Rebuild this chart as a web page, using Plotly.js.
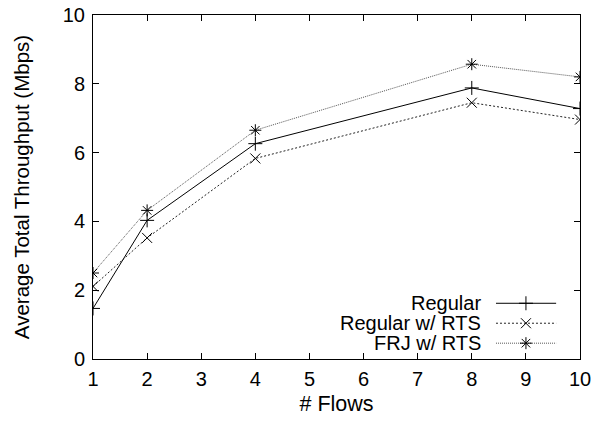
<!DOCTYPE html>
<html>
<head>
<meta charset="utf-8">
<script src="https://cdn.plot.ly/plotly-3.0.1.min.js"></script>
<style>html,body{margin:0;padding:0;background:#fff;}#chart{width:593px;height:424px;}</style>
</head>
<body>
<div id="chart"></div>
<script>
// Data
var flows = [1, 2, 4, 8, 10];
var regular = [1.47, 4.03, 6.26, 7.88, 7.28];
var regularRTS = [2.11, 3.52, 5.83, 7.45, 6.96];
var frjRTS = [2.50, 4.32, 6.65, 8.57, 8.20];
var seriesNames = ["Regular", "Regular w/ RTS", "FRJ w/ RTS"];
var xTicks = [1, 2, 3, 4, 5, 6, 7, 8, 9, 10];
var yTicks = [0, 2, 4, 6, 8, 10];

var FONT = "Liberation Sans, Arial, sans-serif";
var styles = [
  {color: "#000000", dash: "solid", symbol: "cross-thin-open"},
  {color: "#222222", dash: "2px,2px", symbol: "x-thin-open"},
  {color: "#555555", dash: "1px,1px", symbol: "asterisk-open"}
];
var seriesData = [regular, regularRTS, frjRTS];

var traces = [];
seriesData.forEach(function (ys, i) {
  traces.push({
    x: flows, y: ys, type: "scatter", mode: "lines+markers",
    name: seriesNames[i], showlegend: false, hoverinfo: "skip",
    line: {color: styles[i].color, width: 1, dash: styles[i].dash},
    marker: {symbol: styles[i].symbol, size: 10, color: "#000", line: {color: "#000", width: 1}}
  });
});

// custom legend (sample line with marker to the right of the text)
var legY = [0.162, 0.104, 0.046];
var legX0 = 0.8275, legX1 = 0.951, legXm = 0.889, legTextX = 0.80;
var annotations = [];
seriesNames.forEach(function (n, i) {
  traces.push({
    x: [legX0, legX1], y: [legY[i], legY[i]], xaxis: "x2", yaxis: "y2",
    type: "scatter", mode: "lines", showlegend: false, hoverinfo: "skip",
    line: {color: styles[i].color, width: 1, dash: styles[i].dash}
  });
  traces.push({
    x: [legXm], y: [legY[i]], xaxis: "x2", yaxis: "y2",
    type: "scatter", mode: "markers", showlegend: false, hoverinfo: "skip",
    marker: {symbol: styles[i].symbol, size: 10, color: "#000", line: {color: "#000", width: 1}}
  });
  annotations.push({
    text: n, xref: "paper", yref: "paper", x: legTextX, y: legY[i],
    xanchor: "right", yanchor: "middle", showarrow: false,
    font: {family: FONT, size: 20, color: "#000"}
  });
});

var axisCommon = {
  showgrid: false, zeroline: false, showline: true, linecolor: "#000", linewidth: 1,
  mirror: "ticks", ticks: "inside", ticklen: 6, tickwidth: 1, tickcolor: "#000",
  tickfont: {family: FONT, size: 20, color: "#000"}
};

var layout = {
  width: 593, height: 424,
  margin: {l: 93, r: 13, t: 15, b: 65},
  paper_bgcolor: "#fff", plot_bgcolor: "#fff",
  showlegend: false,
  xaxis: Object.assign({}, axisCommon, {
    range: [1, 10], tickmode: "array", tickvals: xTicks, ticktext: xTicks.map(String),
    ticklabelstandoff: 2,
    title: {text: "# Flows", font: {family: FONT, size: 21.5, color: "#000"}, standoff: 6}
  }),
  yaxis: Object.assign({}, axisCommon, {
    range: [0, 10], tickmode: "array", tickvals: yTicks, ticktext: yTicks.map(String),
    ticklabelstandoff: 3,
    title: {text: "Average Total Throughput (Mbps)", font: {family: FONT, size: 20.5, color: "#000"}, standoff: 27}
  }),
  xaxis2: {overlaying: "x", range: [0, 1], visible: false, fixedrange: true},
  yaxis2: {overlaying: "y", range: [0, 1], visible: false, fixedrange: true},
  annotations: annotations
};

Plotly.newPlot("chart", traces, layout, {staticPlot: true, displayModeBar: false});
</script>
</body>
</html>
